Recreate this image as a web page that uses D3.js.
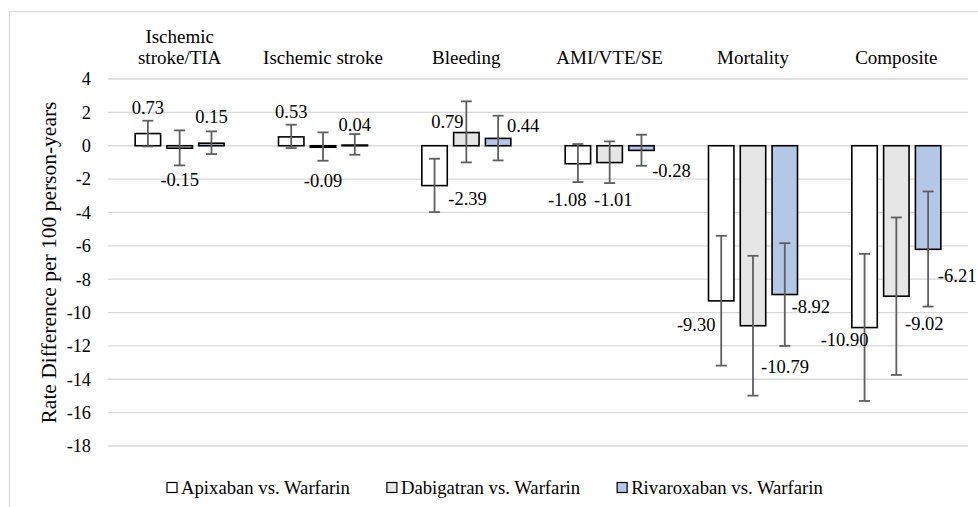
<!DOCTYPE html>
<html>
<head>
<meta charset="utf-8">
<script src="https://cdn.jsdelivr.net/npm/d3@7"></script>
<style>
  html, body { margin: 0; padding: 0; background: #fff; }
  svg { display: block; }
  svg, svg text { font-family: "Liberation Serif", "Times New Roman", Times, serif; fill: #000; }
</style>
</head>
<body>
<svg id="chart" width="978" height="507" font-family="'Liberation Serif', 'Times New Roman', serif"></svg>
<script>
// ---------- data ----------
const categories = ["Ischemic stroke/TIA", "Ischemic stroke", "Bleeding", "AMI/VTE/SE", "Mortality", "Composite"];
const categoryLines = [["Ischemic", "stroke/TIA"], ["Ischemic stroke"], ["Bleeding"], ["AMI/VTE/SE"], ["Mortality"], ["Composite"]];
const series = ["Apixaban vs. Warfarin", "Dabigatran vs. Warfarin", "Rivaroxaban vs. Warfarin"];

const apixaban      = [0.73, 0.53, -2.39, -1.08, -9.30, -10.90];
const apixabanLow   = [-0.04, -0.14, -3.98, -2.18, -13.18, -15.30];
const apixabanHigh  = [1.50, 1.26, -0.78, 0.10, -5.40, -6.48];

const dabigatran     = [-0.15, -0.09, 0.79, -1.01, -10.79, -9.02];
const dabigatranLow  = [-1.18, -0.90, -1.00, -2.24, -14.98, -13.74];
const dabigatranHigh = [0.92, 0.80, 2.66, 0.26, -6.60, -4.30];

const rivaroxaban     = [0.15, 0.04, 0.44, -0.28, -8.92, -6.21];
const rivaroxabanLow  = [-0.50, -0.54, -0.88, -1.20, -12.00, -9.64];
const rivaroxabanHigh = [0.86, 0.70, 1.80, 0.66, -5.84, -2.74];

const yTicks = [4, 2, 0, -2, -4, -6, -8, -10, -12, -14, -16, -18];
const yTitle = "Rate Difference per 100 person-years";

// ---------- layout / style (kept separate from data) ----------
const FONT = "'Liberation Serif', 'Times New Roman', serif";
const seriesFill = ["#ffffff", "#e6e6e6", "#b4c7e7"];
// manual label placement [dx, dy] relative to bar center / bar end, in px
const labelNudge = [
  [[0, -25.5], [0, -24.5], [33, 13], [-10.7, 36], [-25, 24], [-20, 12]],
  [[0, 32], [0, 33.5], [-19, -11], [3.6, 37], [32, 41], [28, 28]],
  [[0, -26], [0, -20], [25, -12], [30, 21], [26, 12], [29, 27]]
];

const values = [apixaban, dabigatran, rivaroxaban];
const lows = [apixabanLow, dabigatranLow, rivaroxabanLow];
const highs = [apixabanHigh, dabigatranHigh, rivaroxabanHigh];

const rows = [];
series.forEach((s, si) => {
  categories.forEach((c, ci) => {
    rows.push({ s, si, c, ci, v: values[si][ci], lo: lows[si][ci], hi: highs[si][ci] });
  });
});

const svg = d3.select("#chart");
const plot = { left: 108, right: 968, top: 79, bottom: 446 };

// chart border
svg.append("rect")
  .attr("x", 9.5).attr("y", 11.5).attr("width", 980).attr("height", 520)
  .attr("fill", "none").attr("stroke", "#d9d9d9").attr("stroke-width", 1.3);

const y = d3.scaleLinear().domain([-18, 4]).range([plot.bottom, plot.top]);
const x0 = d3.scaleBand().domain(categories).range([plot.left, plot.right]).padding(0);
const x1 = d3.scaleBand().domain(series).range([-44.5, 44.5]).paddingInner(0.2).paddingOuter(0);

// gridlines
svg.append("g").selectAll("line").data(yTicks).join("line")
  .attr("x1", plot.left).attr("x2", plot.right)
  .attr("y1", d => y(d)).attr("y2", d => y(d))
  .attr("stroke", "#d9d9d9").attr("stroke-width", 1.3);

// y axis tick labels
const yAxis = d3.axisLeft(y).tickValues(yTicks).tickSize(0).tickPadding(0).tickFormat(d3.format("d"));
const yG = svg.append("g").attr("transform", `translate(${plot.left - 17},0)`).call(yAxis)
  .attr("font-family", FONT);
yG.select(".domain").remove();
yG.selectAll("text")
  .attr("font-family", FONT)
  .attr("font-size", 18.3).attr("fill", "#000")
  .text(d => d < 0 ? "-" + Math.abs(d) : String(d));

// y title
svg.append("text")
  .attr("transform", `translate(49,${(plot.top + plot.bottom) / 2}) rotate(-90)`)
  .attr("text-anchor", "middle").attr("dominant-baseline", "central")
  .attr("font-family", FONT)
  .attr("font-size", 21.5).text(yTitle);

// category labels at top
const catG = svg.append("g").attr("font-family", FONT);
categories.forEach((c, ci) => {
  const lines = categoryLines[ci];
  const t = catG.append("text")
    .attr("text-anchor", "middle").attr("font-size", 19)
    .attr("x", x0(c) + x0.bandwidth() / 2);
  lines.forEach((ln, li) => {
    t.append("tspan")
      .attr("x", x0(c) + x0.bandwidth() / 2)
      .attr("y", 64 - (lines.length - 1 - li) * 21.5)
      .text(ln);
  });
});

// bars
const barX = d => x0(d.c) + x0.bandwidth() / 2 + x1(d.s);
svg.append("g").selectAll("rect").data(rows).join("rect")
  .attr("x", barX)
  .attr("width", x1.bandwidth())
  .attr("y", d => y(Math.max(0, d.v)))
  .attr("height", d => Math.abs(y(d.v) - y(0)))
  .attr("fill", d => seriesFill[d.si])
  .attr("stroke", "#000").attr("stroke-width", 1.6);

// error bars
const eg = svg.append("g").attr("stroke", "#5f5f5f").attr("stroke-width", 1.8);
const cx = d => barX(d) + x1.bandwidth() / 2;
eg.selectAll("line.v").data(rows).join("line").attr("class", "v")
  .attr("x1", cx).attr("x2", cx)
  .attr("y1", d => y(d.lo)).attr("y2", d => y(d.hi));
eg.selectAll("line.lo").data(rows).join("line").attr("class", "lo")
  .attr("x1", d => cx(d) - 5.5).attr("x2", d => cx(d) + 5.5)
  .attr("y1", d => y(d.lo)).attr("y2", d => y(d.lo));
eg.selectAll("line.hi").data(rows).join("line").attr("class", "hi")
  .attr("x1", d => cx(d) - 5.5).attr("x2", d => cx(d) + 5.5)
  .attr("y1", d => y(d.hi)).attr("y2", d => y(d.hi));

// data labels
svg.append("g").attr("font-family", FONT).selectAll("text").data(rows).join("text")
  .attr("x", d => cx(d) + labelNudge[d.si][d.ci][0])
  .attr("y", d => y(d.v) + labelNudge[d.si][d.ci][1])
  .attr("text-anchor", "middle").attr("dominant-baseline", "central")
  .attr("font-size", 18.5)
  .text(d => d.v.toFixed(2));

// legend
const lg = svg.append("g").attr("font-family", FONT);
let cursor = 167;
series.forEach((s, si) => {
  lg.append("rect")
    .attr("x", cursor).attr("y", 482.5).attr("width", 10).attr("height", 10)
    .attr("fill", seriesFill[si]).attr("stroke", "#000").attr("stroke-width", 1.2);
  const t = lg.append("text")
    .attr("x", cursor + 14).attr("y", 487.5)
    .attr("dominant-baseline", "central").attr("font-size", 18.7)
    .text(s);
  cursor = cursor + 14 + t.node().getComputedTextLength() + 37;
});
</script>
</body>
</html>
